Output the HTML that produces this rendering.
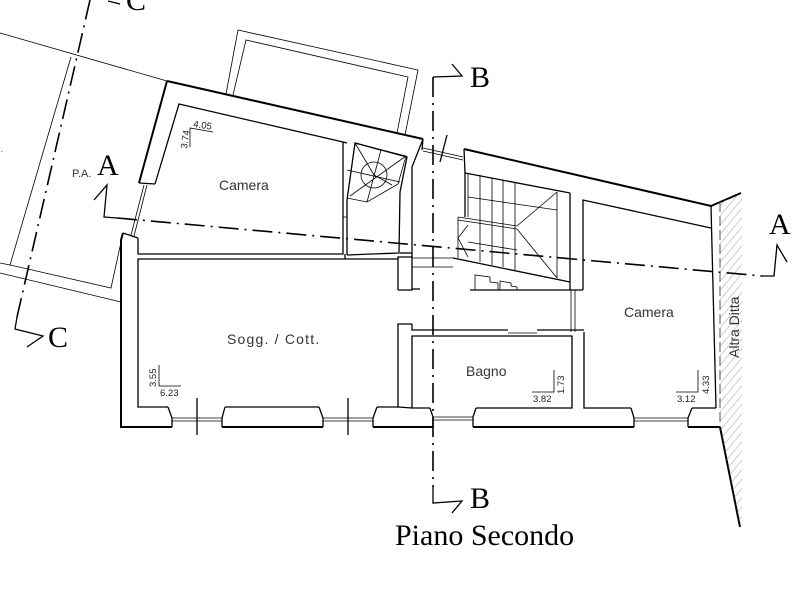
<!DOCTYPE html>
<html><head><meta charset="utf-8"><style>
html,body{margin:0;padding:0;background:#fff;}
svg{display:block;}
.w{stroke:#000;stroke-width:1.3;fill:none;}
.wt{stroke:#000;stroke-width:2;fill:none;}
.th{stroke:#000;stroke-width:0.8;fill:none;}
.sec{stroke:#000;stroke-width:1.6;fill:none;stroke-dasharray:20 6 2 6;}
.lbl{font-family:"Liberation Sans",sans-serif;font-size:14px;fill:#333;}
.dim{font-family:"Liberation Sans",sans-serif;font-size:9.5px;fill:#222;}
.big{font-family:"Liberation Serif",serif;font-size:30px;fill:#000;}
</style></head><body>
<svg width="800" height="600" viewBox="0 0 800 600" xmlns="http://www.w3.org/2000/svg">
<defs>
<pattern id="hat" width="6" height="6" patternUnits="userSpaceOnUse" patternTransform="rotate(40)">
<line x1="0" y1="0" x2="0" y2="6" stroke="#888" stroke-width="0.8"/>
</pattern>
</defs>

<!-- property lines / P.A. -->
<line class="th" x1="0" y1="33" x2="167" y2="81"/>
<polyline class="th" points="71,57 10,265 111,288 123,233"/>
<line class="th" x1="0" y1="263" x2="10" y2="265"/>
<line class="th" x1="0" y1="273" x2="121" y2="302"/>

<!-- terrace -->
<polyline class="th" points="226,94 238,30 418,70 405,135"/>
<polyline class="th" points="233,95 246,40 408,77 397,133"/>

<!-- outer top wall -->
<polyline class="wt" points="167,81 423,139"/>
<polyline class="wt" points="464,149 711,206 741,193"/>
<!-- outer left -->
<polyline class="wt" points="167,81 139,183"/>
<polyline class="wt" points="123,233 121,240 121,427 172,427"/>
<line class="w" x1="139" y1="183" x2="155" y2="184"/>
<line class="w" x1="123" y1="233" x2="138" y2="238"/>
<line class="th" x1="144" y1="185" x2="131" y2="235"/>
<line class="th" x1="147" y1="185" x2="134" y2="236"/>
<!-- bottom outer wall segments -->
<line class="wt" x1="222" y1="427" x2="323" y2="427"/>
<line class="wt" x1="373" y1="427" x2="433" y2="427"/>
<line class="wt" x1="473" y1="427" x2="634" y2="427"/>
<line class="wt" x1="688" y1="427" x2="720" y2="427"/>
<line class="wt" x1="720" y1="427" x2="740" y2="527"/>

<!-- hatch Altra Ditta -->
<polygon points="720,202 742,193 742,520 740,527 720,427" fill="url(#hat)"/>
<line x1="720" y1="202" x2="720" y2="427" stroke="#555" stroke-width="1" stroke-dasharray="10 4"/>
<line class="w" x1="711" y1="206" x2="716" y2="408"/>

<!-- left Camera -->
<polyline class="w" points="155,184 179,104 343,142 343,254 138,254 138,238"/>
<line class="w" x1="347" y1="200" x2="347" y2="255"/>
<line class="w" x1="343" y1="142" x2="347" y2="143"/>
<line class="th" x1="343" y1="217" x2="347" y2="217"/>
<!-- Sogg -->
<polyline class="w" points="398,290 398,259 138,259 138,407 168,407"/>
<line class="w" x1="345" y1="254" x2="345" y2="259"/>
<polyline class="w" points="225,407 319,407"/>
<polyline class="w" points="377,407 398,407 398,324 412,324"/>
<!-- sogg windows -->
<polyline class="w" points="168,407 172,418 172,427"/>
<polyline class="w" points="225,407 222,418 222,427"/>
<line class="th" x1="172" y1="418" x2="222" y2="418"/><line class="th" x1="172" y1="421" x2="222" y2="421"/>
<polyline class="w" points="319,407 323,418 323,427"/>
<polyline class="w" points="377,407 373,418 373,427"/>
<line class="th" x1="323" y1="418" x2="373" y2="418"/><line class="th" x1="323" y1="421" x2="373" y2="421"/>
<line class="w" x1="197" y1="398" x2="197" y2="435"/>
<line class="w" x1="348" y1="398" x2="348" y2="435"/>

<!-- pillar between Sogg and corridor -->
<polyline class="w" points="398,259 398,257 412,257 412,290 398,290"/>
<line class="th" x1="412" y1="258" x2="453" y2="258"/>
<line class="th" x1="412" y1="267" x2="453" y2="267"/>

<!-- spiral room -->
<polyline class="w" points="347,200 355,143 407,157 400,192 399,253 347,255"/>
<polyline class="th" points="355,143 406,156 398,184 367,202 347,198"/>
<circle cx="374" cy="175" r="13" class="th"/>
<line class="th" x1="355" y1="143" x2="374" y2="175"/>
<line class="th" x1="406" y1="156" x2="350" y2="196"/>
<line class="th" x1="347" y1="170" x2="400" y2="182"/>
<line class="th" x1="381" y1="150" x2="367" y2="202"/>
<line class="th" x1="374" y1="175" x2="392" y2="185"/>
<line class="w" x1="400" y1="253" x2="412" y2="253"/>

<!-- corridor -->
<polyline class="w" points="423,139 412,167 412,257"/>
<line class="th" x1="423" y1="148" x2="463" y2="157"/>
<line class="th" x1="423" y1="151" x2="463" y2="160"/>
<line class="w" x1="423" y1="139" x2="422" y2="150"/>
<line class="w" x1="447" y1="135" x2="440" y2="162"/>
<polyline class="w" points="464,149 465,173 570,193"/>
<line class="w" x1="465" y1="173" x2="465" y2="217"/>
<line class="th" x1="468" y1="173" x2="468" y2="217"/>
<line class="th" x1="458" y1="217" x2="458" y2="258"/>
<polyline class="w" points="453,258 570,282"/>

<!-- stair -->
<line class="th" x1="480" y1="175" x2="480" y2="262"/>
<line class="th" x1="492" y1="178" x2="492" y2="265"/>
<line class="th" x1="503" y1="180" x2="503" y2="267"/>
<line class="th" x1="515" y1="182" x2="515" y2="270"/>
<line class="th" x1="468" y1="197" x2="557" y2="210"/>
<line class="th" x1="458" y1="217" x2="517" y2="226"/>
<line class="th" x1="458" y1="220" x2="517" y2="229"/>
<line class="th" x1="468" y1="242" x2="517" y2="250"/>
<line class="th" x1="517" y1="226" x2="557" y2="192"/>
<line class="th" x1="517" y1="229" x2="557" y2="278"/>
<line class="th" x1="557" y1="192" x2="557" y2="278"/>
<line class="th" x1="458" y1="238" x2="468" y2="225"/>
<line class="th" x1="458" y1="238" x2="468" y2="257"/>
<line class="w" x1="570" y1="193" x2="570" y2="290"/>
<polyline class="th" points="475,290 475,275 490,277 490,282 498,283 498,290"/>
<polyline class="th" points="500,290 500,281 511,283 511,286 517,287 517,290"/>
<line class="w" x1="412" y1="289" x2="420" y2="289"/>
<line class="w" x1="470" y1="290" x2="583" y2="290"/>

<!-- right Camera -->
<polyline class="w" points="583,290 583,200 711,228"/>
<polyline class="w" points="584,332 584,408 631,408"/>
<polyline class="w" points="692,408 716,408"/>
<line class="th" x1="571" y1="290" x2="571" y2="332"/>
<line class="th" x1="575" y1="290" x2="575" y2="332"/>
<polyline class="w" points="631,408 634,418 634,427"/>
<polyline class="w" points="692,408 688,418 688,427"/>
<line class="th" x1="634" y1="418" x2="688" y2="418"/><line class="th" x1="634" y1="421" x2="688" y2="421"/>

<!-- Bagno -->
<polyline class="w" points="412,324 412,330 508,330"/>
<line class="w" x1="537" y1="330" x2="584" y2="330"/>
<line class="th" x1="508" y1="333" x2="537" y2="333"/>
<polyline class="w" points="430,408 412,408 412,336 572,336 572,408 476,408"/>
<polyline class="w" points="430,408 433,417 433,427"/>
<polyline class="w" points="476,408 473,417 473,427"/>
<line class="th" x1="433" y1="417" x2="473" y2="417"/><line class="th" x1="433" y1="420" x2="473" y2="420"/>
<line class="w" x1="398" y1="407" x2="412" y2="408"/>

<!-- dimension marks -->
<polyline class="th" points="190,147 190,128 213,132"/>
<text class="dim" x="193" y="127" transform="rotate(8 193 127)">4.05</text>
<text class="dim" x="187" y="149" transform="rotate(-82 187 149)">3.74</text>
<polyline class="th" points="159,365 159,386 181,386"/>
<text class="dim" x="160" y="396">6.23</text>
<text class="dim" x="156" y="387" transform="rotate(-90 156 387)">3.55</text>
<polyline class="th" points="532,392 554,392 554,370"/>
<text class="dim" x="533" y="402">3.82</text>
<text class="dim" x="564" y="394" transform="rotate(-90 564 394)">1.73</text>
<polyline class="th" points="676,392 698,392 698,370"/>
<text class="dim" x="677" y="402">3.12</text>
<text class="dim" x="709" y="394" transform="rotate(-90 709 394)">4.33</text>

<!-- room labels -->
<text class="lbl" x="219" y="190">Camera</text>
<text class="lbl" x="227" y="344" letter-spacing="1.2">Sogg. / Cott.</text>
<text class="lbl" x="466" y="376">Bagno</text>
<text class="lbl" x="624" y="317">Camera</text>
<text class="lbl" x="739" y="358" transform="rotate(-90 739 358)">Altra Ditta</text>
<text x="72" y="177" font-family="Liberation Sans,sans-serif" font-size="11" fill="#333">P.A.</text>
<text x="-2" y="152" font-family="Liberation Sans,sans-serif" font-size="9" fill="#555">..</text>

<!-- section lines -->
<line class="sec" x1="117" y1="218" x2="762" y2="276"/>
<polyline class="w" points="94,200 107,185 104,217 117,218" stroke-width="1.6"/>
<polyline class="w" points="762,276 774,276 777,245 787,262" stroke-width="1.6"/>
<text class="big" x="97" y="175">A</text>
<text class="big" x="769" y="234">A</text>

<line class="sec" x1="433" y1="77" x2="433" y2="487"/>
<polyline class="w" points="433,77 462,76 452,64" stroke-width="1.6"/>
<polyline class="w" points="433,487 433,503 462,501 452,513" stroke-width="1.6"/>
<text class="big" x="470" y="87">B</text>
<text class="big" x="470" y="508">B</text>

<line class="sec" x1="90" y1="0" x2="17" y2="317"/>
<polyline class="w" points="17,317 15,329 43,336 27,347" stroke-width="1.6"/>
<polyline class="w" points="108,1 120,4" stroke-width="1.6"/>
<text class="big" x="48" y="347">C</text>
<text class="big" x="126" y="10">C</text>

<text class="big" x="395" y="545" font-size="30">Piano Secondo</text>
</svg>
</body></html>
